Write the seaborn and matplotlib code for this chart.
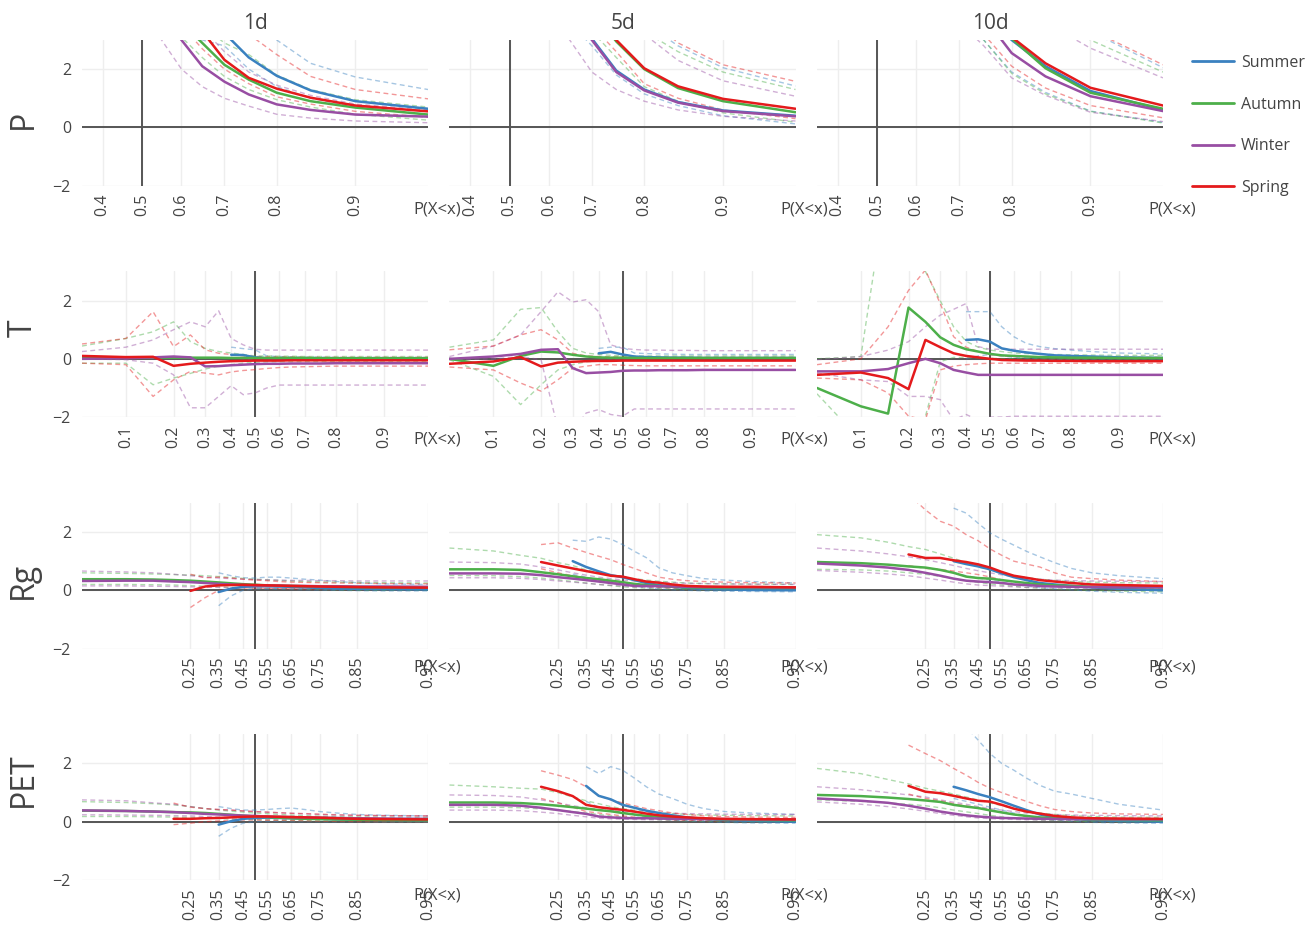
import numpy as np
import matplotlib
matplotlib.use("Agg")
import matplotlib.pyplot as plt
import seaborn as sns
from matplotlib.lines import Line2D
from matplotlib.ticker import NullLocator

nan = np.nan

# probability levels P(X<x) of every trace
QUANTILES = [0.05, 0.10, 0.15, 0.20, 0.25, 0.30, 0.35, 0.40, 0.45, 0.50,
             0.55, 0.60, 0.65, 0.70, 0.75, 0.80, 0.85, 0.90, 0.95]

SEASONS = ["Summer", "Autumn", "Winter", "Spring"]
COLORS = {"Summer": "#3a81c0", "Autumn": "#4daf4a", "Winter": "#984ea3", "Spring": "#e41a1c"}
VARIABLES = ["P", "T", "Rg", "PET"]
HORIZONS = ["1d", "5d", "10d"]

# (median, lower, upper) per season; lists end at 0.95, missing leading levels are empty
P_1D = {
    "Summer": ([9.0, 7.5, 6.3, 5.3, 4.6, 4.0, 3.6, 3.24, 2.4, 1.77, 1.27, 0.9, 0.64],
               [7.0, 6.0, 5.0, 4.3, 3.7, 3.3, 3.0, 2.8, 2.0, 1.4, 1.0, 0.7, 0.45],
               [14.0, 12.0, 10.0, 8.5, 7.2, 6.2, 5.2, 4.4, 3.6, 3.0, 2.2, 1.73, 1.3]),
    "Autumn": ([7.0, 5.9, 5.0, 4.4, 4.0, 3.6, 2.9, 2.15, 1.64, 1.19, 0.9, 0.68, 0.44],
               [6.8, 5.8, 5.0, 4.4, 3.8, 3.1, 2.4, 1.75, 1.3, 0.95, 0.7, 0.45, 0.25],
               [9.5, 8.0, 7.0, 6.0, 5.0, 4.2, 3.5, 2.9, 2.5, 1.8, 1.3, 0.95, 0.7]),
    "Winter": ([7.4, 6.3, 5.4, 4.6, 3.8, 3.0, 2.1, 1.57, 1.13, 0.79, 0.6, 0.44, 0.37],
               [6.3, 5.4, 4.6, 3.8, 3.0, 2.0, 1.4, 1.0, 0.73, 0.45, 0.32, 0.22, 0.16],
               [8.8, 7.6, 6.7, 5.8, 5.0, 4.2, 3.4, 2.6, 1.9, 1.45, 1.1, 0.8, 0.6]),
    "Spring": ([8.8, 7.6, 6.6, 5.7, 4.9, 4.1, 3.3, 2.32, 1.7, 1.33, 1.02, 0.75, 0.55],
               [7.8, 6.7, 5.8, 5.0, 4.2, 3.5, 2.7, 2.0, 1.5, 1.05, 0.8, 0.55, 0.35],
               [11.0, 9.8, 8.6, 7.5, 6.5, 5.6, 4.8, 4.0, 3.2, 2.5, 1.75, 1.3, 0.98]),
}
P_5D = {
    "Summer": ([10, 9, 8, 7, 6, 5, 4, 3.05, 1.95, 1.3, 0.87, 0.58, 0.4],
               [9, 8.1, 7.2, 6.3, 5.4, 4.5, 3.6, 2.8, 1.8, 1.15, 0.75, 0.4, 0.12],
               [12.5, 11.5, 10.5, 9.5, 8.5, 7.5, 6.5, 5.5, 4.5, 3.6, 2.8, 2.05, 1.42]),
    "Autumn": ([11, 10, 9, 8, 7, 6, 5, 4, 2.95, 2.0, 1.35, 0.9, 0.52],
               [9.6, 8.7, 7.8, 6.9, 6.0, 5.1, 4.2, 3.3, 2.4, 1.4, 0.9, 0.5, 0.18],
               [12, 11, 10, 9, 8, 7, 6, 5.2, 4.2, 3.3, 2.6, 1.9, 1.3]),
    "Winter": ([9.3, 8.4, 7.5, 6.6, 5.7, 4.8, 3.9, 3.0, 1.9, 1.27, 0.85, 0.56, 0.38],
               [8.4, 7.5, 6.6, 5.7, 4.8, 3.9, 3.0, 1.9, 1.3, 0.9, 0.6, 0.38, 0.22],
               [10.5, 9.5, 8.5, 7.5, 6.6, 5.8, 5.0, 4.6, 4.0, 3.2, 2.3, 1.6, 1.07]),
    "Spring": ([11.5, 10.5, 9.5, 8.5, 7.5, 6.5, 5.3, 4.1, 3.0, 2.03, 1.41, 0.98, 0.64],
               [10, 9, 8, 7, 6.1, 5.2, 4.3, 3.5, 2.6, 1.5, 1.0, 0.6, 0.3],
               [13, 12, 11, 10, 9, 8, 7, 6, 4.8, 3.9, 2.9, 2.15, 1.58]),
}
P_10D = {
    "Summer": ([12, 11, 10, 9, 8, 7, 6, 5.0, 4.0, 3.0, 2.1, 1.25, 0.6],
               [10, 9, 8, 7, 6, 5, 4.5, 3.8, 3.0, 1.9, 1.2, 0.56, 0.17],
               [15, 14, 13, 12, 11, 10, 9, 8, 7, 5.5, 4.5, 3.3, 2.05]),
    "Autumn": ([12, 11, 10, 9, 8, 7, 6, 5.0, 4.1, 3.05, 2.03, 1.19, 0.64],
               [10, 9, 8, 7, 6, 5, 4.5, 3.8, 3.0, 1.85, 1.15, 0.55, 0.15],
               [14, 13, 12, 11, 10, 9, 8, 7, 6, 5, 4, 3.0, 1.9]),
    "Winter": ([11, 10, 9, 8, 7, 6, 5.2, 4.4, 3.8, 2.55, 1.75, 1.07, 0.56],
               [9, 8, 7, 6, 5.5, 5, 4.3, 3.6, 2.8, 1.7, 1.1, 0.52, 0.2],
               [13, 12, 11, 10, 9, 8, 7, 6, 5, 4.2, 3.6, 2.72, 1.7]),
    "Spring": ([12.5, 11.5, 10.5, 9.5, 8.5, 7.5, 6.5, 5.3, 4.2, 3.1, 2.2, 1.36, 0.75],
               [10.5, 9.5, 8.5, 7.5, 6.5, 5.5, 4.7, 4.0, 3.2, 2.1, 1.35, 0.75, 0.33],
               [16, 15, 14, 13, 12, 11, 10, 9, 7.5, 6, 4.8, 3.35, 2.15]),
}

T_1D = {
    "Summer": ([0.14, 0.13, 0.05, 0.02, 0.02, 0.01, 0.01, 0.01, 0.0, 0.0, 0.0, 0.0],
               [0.05, 0.0, -0.05, -0.05, -0.05, -0.05, -0.05, -0.05, -0.05, -0.05, -0.05, -0.05],
               [0.4, 0.35, 0.31, 0.1, 0.08, 0.07, 0.06, 0.06, 0.05, 0.05, 0.05, 0.05]),
    "Autumn": ([0.05, 0.04, 0.04, 0.04, 0.04, 0.04, 0.04, 0.03, 0.03, 0.03, 0.03, 0.03, 0.03, 0.03, 0.02, 0.02, 0.02, 0.02, 0.02],
               [-0.15, -0.15, -0.89, -0.66, -0.5, -0.35, -0.25, -0.2, -0.15, -0.12, -0.1, -0.1, -0.1, -0.1, -0.1, -0.1, -0.1, -0.1, -0.1],
               [0.44, 0.7, 0.93, 1.27, 0.59, 0.36, 0.25, 0.2, 0.15, 0.1, 0.1, 0.09, 0.09, 0.08, 0.08, 0.08, 0.08, 0.08, 0.08]),
    "Winter": ([0.0, 0.02, 0.05, 0.08, 0.05, -0.26, -0.25, -0.22, -0.2, -0.18, -0.17, -0.17, -0.16, -0.16, -0.16, -0.15, -0.15, -0.15, -0.15],
               [0.0, -0.03, -0.15, -0.55, -1.68, -1.68, -1.29, -0.92, -1.23, -1.17, -1.0, -0.9, -0.9, -0.9, -0.9, -0.9, -0.9, -0.9, -0.9],
               [0.25, 0.4, 0.65, 1.0, 1.27, 1.1, 1.65, 0.7, 0.48, 0.33, 0.3, 0.3, 0.3, 0.3, 0.3, 0.3, 0.3, 0.3, 0.3]),
    "Spring": ([0.1, 0.06, 0.07, -0.24, -0.17, -0.13, -0.1, -0.08, -0.07, -0.06, -0.06, -0.06, -0.05, -0.05, -0.05, -0.05, -0.05, -0.05, -0.05],
               [-0.15, -0.2, -1.29, -0.72, -0.43, -0.49, -0.55, -0.45, -0.4, -0.37, -0.33, -0.3, -0.28, -0.27, -0.26, -0.25, -0.25, -0.25, -0.25],
               [0.51, 0.7, 1.62, 0.42, 0.82, 0.31, 0.19, 0.15, 0.1, 0.08, 0.07, 0.06, 0.06, 0.05, 0.05, 0.05, 0.05, 0.05, 0.05]),
}
T_5D = {
    "Summer": ([0.19, 0.24, 0.15, 0.08, 0.06, 0.05, 0.04, 0.04, 0.03, 0.03, 0.03, 0.03],
               [0.05, 0.0, -0.03, -0.05, -0.05, -0.05, -0.05, -0.05, -0.05, -0.05, -0.05, -0.05],
               [0.36, 0.4, 0.4, 0.2, 0.18, 0.17, 0.16, 0.15, 0.15, 0.15, 0.15, 0.15]),
    "Autumn": ([0.0, -0.24, 0.1, 0.25, 0.22, 0.14, 0.08, 0.05, 0.04, 0.04, 0.03, 0.03, 0.03, 0.03, 0.03, 0.03, 0.03, 0.03, 0.03],
               [-0.03, -0.6, -1.57, -0.89, -0.38, -0.2, -0.1, -0.08, -0.06, -0.05, -0.05, -0.05, -0.05, -0.05, -0.05, -0.05, -0.05, -0.05, -0.05],
               [0.4, 0.65, 1.7, 1.76, 0.93, 0.36, 0.2, 0.15, 0.12, 0.1, 0.1, 0.1, 0.1, 0.1, 0.1, 0.1, 0.1, 0.1, 0.1]),
    "Winter": ([0.0, 0.08, 0.17, 0.31, 0.33, -0.32, -0.49, -0.47, -0.45, -0.41, -0.4, -0.4, -0.39, -0.39, -0.39, -0.38, -0.38, -0.38, -0.38],
               [-0.03, 0.0, 0.08, -0.03, -2.4, -2.5, -1.86, -1.74, -1.91, -1.97, -1.72, -1.72, -1.72, -1.72, -1.72, -1.72, -1.72, -1.72, -1.72],
               [0.08, 0.44, 0.82, 1.62, 2.3, 1.95, 2.03, 1.62, 0.48, 0.36, 0.32, 0.3, 0.3, 0.29, 0.29, 0.28, 0.28, 0.28, 0.28]),
    "Spring": ([-0.17, -0.09, 0.06, -0.26, -0.13, -0.1, -0.08, -0.07, -0.07, -0.06, -0.06, -0.06, -0.06, -0.06, -0.06, -0.06, -0.06, -0.06, -0.06],
               [-0.28, -0.38, -0.83, -1.11, -0.72, -0.32, -0.25, -0.2, -0.2, -0.22, -0.23, -0.24, -0.24, -0.24, -0.24, -0.24, -0.24, -0.24, -0.24],
               [0.31, 0.44, 0.82, 1.0, 0.65, 0.19, 0.1, 0.08, 0.07, 0.06, 0.06, 0.05, 0.05, 0.05, 0.05, 0.05, 0.05, 0.05, 0.05]),
}
T_10D = {
    "Summer": ([0.65, 0.67, 0.59, 0.36, 0.28, 0.22, 0.17, 0.12, 0.1, 0.08, 0.05, 0.03],
               [0.0, 0.1, 0.15, 0.1, 0.05, 0.03, 0.0, -0.02, -0.03, -0.04, -0.05, -0.05],
               [1.62, 1.62, 1.62, 1.1, 0.76, 0.53, 0.42, 0.35, 0.3, 0.25, 0.2, 0.17]),
    "Autumn": ([-1.0, -1.63, -1.88, 1.76, 1.27, 0.74, 0.48, 0.33, 0.25, 0.17, 0.12, 0.1, 0.08, 0.06, 0.05, 0.04, 0.04, 0.03, 0.03],
               [-1.2, -2.8, -3.2, -3.0, -1.97, -0.1, 0.05, 0.05, 0.03, 0.02, 0.01, 0.0, 0.0, 0.0, 0.0, 0.0, 0.0, 0.0, 0.0],
               [0.0, 0.08, 6.2, 5.0, 3.0, 2.0, 1.1, 0.6, 0.4, 0.3, 0.25, 0.2, 0.18, 0.16, 0.15, 0.14, 0.13, 0.12, 0.12]),
    "Winter": ([-0.43, -0.43, -0.35, -0.15, 0.0, -0.15, -0.38, -0.47, -0.55, -0.55, -0.55, -0.55, -0.55, -0.55, -0.55, -0.55, -0.55, -0.55, -0.55],
               [-0.49, -0.72, -0.78, -1.29, -1.29, -1.4, -2.1, -1.91, -2.1, -2.0, -2.0, -1.97, -1.97, -1.97, -1.97, -1.97, -1.97, -1.97, -1.97],
               [-0.03, 0.08, 0.3, 0.59, 1.1, 1.5, 1.7, 1.9, 0.42, 0.33, 0.33, 0.33, 0.33, 0.33, 0.33, 0.33, 0.33, 0.33, 0.33]),
    "Spring": ([-0.55, -0.47, -0.66, -1.04, 0.65, 0.4, 0.19, 0.1, 0.05, 0.0, -0.04, -0.05, -0.06, -0.06, -0.07, -0.07, -0.08, -0.08, -0.08],
               [-0.66, -0.72, -1.17, -1.97, -2.1, -0.38, -0.25, -0.2, -0.17, -0.15, -0.15, -0.15, -0.15, -0.15, -0.15, -0.15, -0.15, -0.15, -0.15],
               [-0.2, 0.0, 1.1, 2.35, 3.05, 1.9, 0.76, 0.4, 0.25, 0.15, 0.1, 0.08, 0.07, 0.06, 0.05, 0.05, 0.05, 0.05, 0.05]),
}

RG_1D = {
    "Summer": ([-0.06, 0.06, 0.12, 0.14, 0.14, 0.13, 0.12, 0.1, 0.08, 0.06, 0.05, 0.04, 0.03],
               [-0.53, -0.19, 0.0, 0.05, 0.05, 0.04, 0.03, 0.02, 0.01, 0.0, -0.01, -0.02, -0.02],
               [0.6, 0.5, 0.43, 0.42, 0.45, 0.45, 0.42, 0.38, 0.35, 0.3, 0.26, 0.22, 0.2]),
    "Autumn": ([0.38, 0.38, 0.37, 0.35, 0.33, 0.3, 0.27, 0.24, 0.21, 0.19, 0.17, 0.16, 0.15, 0.14, 0.13, 0.12, 0.11, 0.1, 0.1],
               [0.2, 0.2, 0.19, 0.18, 0.16, 0.14, 0.12, 0.1, 0.09, 0.08, 0.07, 0.06, 0.05, 0.04, 0.03, 0.02, 0.01, 0.0, 0.0],
               [0.6, 0.58, 0.56, 0.54, 0.52, 0.5, 0.47, 0.44, 0.41, 0.38, 0.36, 0.34, 0.32, 0.3, 0.29, 0.28, 0.27, 0.26, 0.25]),
    "Winter": ([0.32, 0.33, 0.33, 0.3, 0.28, 0.25, 0.22, 0.2, 0.18, 0.17, 0.16, 0.16, 0.15, 0.15, 0.14, 0.14, 0.13, 0.13, 0.12],
               [0.15, 0.15, 0.14, 0.13, 0.12, 0.11, 0.1, 0.09, 0.08, 0.08, 0.07, 0.07, 0.06, 0.06, 0.06, 0.05, 0.05, 0.05, 0.05],
               [0.66, 0.63, 0.6, 0.55, 0.5, 0.45, 0.42, 0.4, 0.38, 0.37, 0.36, 0.35, 0.34, 0.34, 0.33, 0.33, 0.32, 0.32, 0.32]),
    "Spring": ([-0.02, 0.13, 0.17, 0.18, 0.19, 0.18, 0.17, 0.16, 0.15, 0.14, 0.13, 0.12, 0.11, 0.1, 0.09],
               [-0.59, -0.25, 0.0, 0.05, 0.08, 0.08, 0.07, 0.06, 0.05, 0.05, 0.04, 0.04, 0.03, 0.03, 0.03],
               [0.55, 0.43, 0.45, 0.42, 0.38, 0.35, 0.33, 0.3, 0.28, 0.27, 0.26, 0.25, 0.24, 0.23, 0.22]),
}
RG_5D = {
    "Summer": ([1.0, 0.8, 0.65, 0.52, 0.45, 0.35, 0.25, 0.18, 0.12, 0.08, 0.05, 0.03, 0.01, 0.0],
               [0.55, 0.45, 0.35, 0.28, 0.2, 0.14, 0.09, 0.05, 0.02, 0.0, -0.02, -0.03, -0.04, -0.05],
               [1.72, 1.68, 1.83, 1.76, 1.57, 1.34, 1.12, 0.77, 0.6, 0.5, 0.4, 0.35, 0.3, 0.25]),
    "Autumn": ([0.72, 0.72, 0.7, 0.62, 0.55, 0.48, 0.42, 0.38, 0.33, 0.28, 0.22, 0.18, 0.15, 0.12, 0.1, 0.09, 0.08, 0.08, 0.08],
               [0.51, 0.5, 0.47, 0.42, 0.36, 0.3, 0.25, 0.2, 0.16, 0.12, 0.09, 0.07, 0.05, 0.04, 0.03, 0.02, 0.01, 0.0, 0.0],
               [1.45, 1.35, 1.2, 1.1, 0.95, 0.85, 0.7, 0.6, 0.52, 0.45, 0.4, 0.35, 0.31, 0.28, 0.25, 0.23, 0.22, 0.21, 0.2]),
    "Winter": ([0.58, 0.58, 0.57, 0.52, 0.45, 0.4, 0.35, 0.3, 0.25, 0.2, 0.15, 0.15, 0.14, 0.13, 0.12, 0.11, 0.11, 0.1, 0.1],
               [0.43, 0.43, 0.41, 0.37, 0.32, 0.28, 0.24, 0.2, 0.17, 0.15, 0.12, 0.1, 0.09, 0.08, 0.07, 0.06, 0.06, 0.05, 0.05],
               [0.97, 0.95, 0.9, 0.8, 0.7, 0.6, 0.52, 0.45, 0.4, 0.35, 0.32, 0.3, 0.28, 0.26, 0.24, 0.23, 0.22, 0.21, 0.2]),
    "Spring": ([0.97, 0.85, 0.75, 0.66, 0.58, 0.5, 0.47, 0.38, 0.3, 0.26, 0.2, 0.15, 0.13, 0.12, 0.12, 0.1],
               [0.74, 0.6, 0.5, 0.42, 0.35, 0.28, 0.22, 0.17, 0.13, 0.1, 0.08, 0.06, 0.05, 0.04, 0.04, 0.03],
               [1.57, 1.63, 1.45, 1.3, 1.17, 1.05, 0.89, 0.75, 0.6, 0.45, 0.38, 0.33, 0.3, 0.28, 0.26, 0.25]),
}
RG_10D = {
    "Summer": ([1.0, 0.9, 0.82, 0.72, 0.58, 0.45, 0.35, 0.25, 0.2, 0.15, 0.1, 0.05, 0.0],
               [0.6, 0.5, 0.42, 0.35, 0.28, 0.2, 0.14, 0.09, 0.05, 0.02, -0.03, -0.07, -0.1],
               [2.82, 2.65, 2.3, 1.97, 1.75, 1.55, 1.34, 1.15, 0.95, 0.75, 0.6, 0.5, 0.4]),
    "Autumn": ([0.97, 0.93, 0.88, 0.82, 0.78, 0.7, 0.6, 0.47, 0.42, 0.4, 0.35, 0.3, 0.25, 0.2, 0.17, 0.15, 0.12, 0.11, 0.1],
               [0.72, 0.7, 0.66, 0.6, 0.55, 0.48, 0.4, 0.32, 0.27, 0.22, 0.18, 0.14, 0.1, 0.07, 0.04, 0.02, 0.0, -0.03, -0.05],
               [1.91, 1.8, 1.65, 1.5, 1.4, 1.25, 1.1, 0.95, 0.8, 0.7, 0.6, 0.5, 0.44, 0.38, 0.34, 0.3, 0.28, 0.26, 0.25]),
    "Winter": ([0.92, 0.85, 0.78, 0.7, 0.6, 0.5, 0.4, 0.33, 0.3, 0.28, 0.25, 0.2, 0.18, 0.15, 0.13, 0.12, 0.11, 0.1, 0.1],
               [0.68, 0.62, 0.56, 0.5, 0.42, 0.35, 0.28, 0.22, 0.18, 0.16, 0.14, 0.12, 0.1, 0.09, 0.08, 0.07, 0.06, 0.05, 0.05],
               [1.45, 1.35, 1.25, 1.15, 1.05, 0.95, 0.85, 0.75, 0.67, 0.6, 0.53, 0.47, 0.42, 0.38, 0.35, 0.33, 0.32, 0.31, 0.3]),
    "Spring": ([1.23, 1.11, 1.11, 1.03, 0.97, 0.89, 0.78, 0.63, 0.5, 0.43, 0.35, 0.3, 0.25, 0.2, 0.18, 0.15],
               [0.85, 0.75, 0.72, 0.66, 0.6, 0.54, 0.46, 0.36, 0.28, 0.22, 0.18, 0.15, 0.13, 0.11, 0.1, 0.1],
               [3.3, 2.76, 2.37, 2.2, 1.91, 1.7, 1.42, 1.2, 1.0, 0.9, 0.8, 0.6, 0.45, 0.4, 0.35, 0.3]),
}

PET_1D = {
    "Summer": ([-0.1, 0.02, 0.1, 0.13, 0.14, 0.13, 0.12, 0.11, 0.1, 0.08, 0.07, 0.06, 0.05],
               [-0.5, -0.22, -0.05, 0.0, 0.01, 0.01, 0.0, 0.0, 0.0, -0.01, -0.01, -0.02, -0.02],
               [0.52, 0.45, 0.4, 0.4, 0.42, 0.45, 0.47, 0.42, 0.35, 0.3, 0.25, 0.22, 0.2]),
    "Autumn": ([0.38, 0.37, 0.35, 0.33, 0.32, 0.3, 0.27, 0.24, 0.21, 0.18, 0.16, 0.14, 0.12, 0.1, 0.09, 0.08, 0.07, 0.06, 0.05],
               [0.18, 0.18, 0.17, 0.16, 0.15, 0.13, 0.11, 0.09, 0.08, 0.07, 0.06, 0.05, 0.04, 0.03, 0.02, 0.01, 0.01, 0.0, 0.0],
               [0.69, 0.66, 0.62, 0.58, 0.52, 0.45, 0.4, 0.36, 0.33, 0.3, 0.28, 0.25, 0.23, 0.21, 0.19, 0.18, 0.17, 0.16, 0.15]),
    "Winter": ([0.39, 0.37, 0.35, 0.33, 0.3, 0.27, 0.25, 0.23, 0.21, 0.2, 0.18, 0.17, 0.16, 0.15, 0.14, 0.13, 0.12, 0.11, 0.1],
               [0.24, 0.23, 0.22, 0.21, 0.2, 0.18, 0.16, 0.14, 0.12, 0.11, 0.1, 0.1, 0.09, 0.09, 0.09, 0.08, 0.08, 0.08, 0.08],
               [0.75, 0.72, 0.65, 0.6, 0.52, 0.45, 0.42, 0.4, 0.37, 0.35, 0.33, 0.31, 0.29, 0.27, 0.25, 0.23, 0.22, 0.21, 0.2]),
    "Spring": ([0.1, 0.1, 0.12, 0.13, 0.15, 0.17, 0.18, 0.18, 0.17, 0.16, 0.15, 0.14, 0.12, 0.1, 0.09, 0.08],
               [-0.1, -0.05, 0.0, 0.03, 0.05, 0.06, 0.06, 0.05, 0.05, 0.04, 0.03, 0.02, 0.01, 0.0, 0.0, 0.0],
               [0.64, 0.5, 0.45, 0.42, 0.4, 0.37, 0.35, 0.33, 0.31, 0.29, 0.28, 0.26, 0.24, 0.22, 0.21, 0.2]),
}
PET_5D = {
    "Summer": ([1.23, 0.89, 0.77, 0.58, 0.48, 0.38, 0.3, 0.22, 0.15, 0.1, 0.06, 0.03, 0.0],
               [0.7, 0.5, 0.4, 0.3, 0.22, 0.15, 0.1, 0.06, 0.03, 0.0, -0.02, -0.04, -0.05],
               [1.89, 1.66, 1.89, 1.77, 1.5, 1.2, 0.95, 0.8, 0.6, 0.45, 0.35, 0.3, 0.25]),
    "Autumn": ([0.66, 0.66, 0.64, 0.6, 0.55, 0.5, 0.45, 0.4, 0.36, 0.3, 0.25, 0.2, 0.17, 0.15, 0.12, 0.1, 0.08, 0.06, 0.05],
               [0.5, 0.5, 0.48, 0.44, 0.4, 0.35, 0.3, 0.25, 0.2, 0.16, 0.12, 0.09, 0.07, 0.05, 0.03, 0.02, 0.01, 0.0, 0.0],
               [1.26, 1.2, 1.15, 1.12, 1.0, 0.85, 0.72, 0.62, 0.52, 0.45, 0.4, 0.35, 0.31, 0.28, 0.25, 0.23, 0.22, 0.21, 0.2]),
    "Winter": ([0.58, 0.58, 0.55, 0.48, 0.4, 0.33, 0.27, 0.18, 0.15, 0.13, 0.12, 0.12, 0.11, 0.1, 0.1, 0.09, 0.09, 0.08, 0.08],
               [0.4, 0.4, 0.38, 0.33, 0.28, 0.22, 0.17, 0.12, 0.1, 0.09, 0.08, 0.07, 0.07, 0.06, 0.06, 0.05, 0.05, 0.05, 0.05],
               [0.92, 0.9, 0.85, 0.75, 0.65, 0.55, 0.48, 0.42, 0.38, 0.35, 0.33, 0.31, 0.3, 0.29, 0.28, 0.27, 0.26, 0.25, 0.25]),
    "Spring": ([1.2, 1.05, 0.88, 0.58, 0.5, 0.45, 0.41, 0.35, 0.28, 0.22, 0.18, 0.15, 0.12, 0.1, 0.09, 0.08],
               [0.8, 0.65, 0.5, 0.35, 0.3, 0.25, 0.2, 0.16, 0.12, 0.09, 0.07, 0.05, 0.04, 0.03, 0.03, 0.03],
               [1.75, 1.6, 1.45, 1.2, 0.9, 0.75, 0.65, 0.55, 0.45, 0.38, 0.3, 0.25, 0.2, 0.18, 0.16, 0.15]),
}
PET_10D = {
    "Summer": ([1.2, 1.08, 0.95, 0.84, 0.7, 0.55, 0.4, 0.25, 0.15, 0.1, 0.06, 0.03, 0.0],
               [0.8, 0.7, 0.6, 0.5, 0.4, 0.3, 0.2, 0.12, 0.06, 0.02, -0.02, -0.04, -0.05],
               [3.8, 3.25, 2.8, 2.34, 2.0, 1.77, 1.5, 1.25, 1.05, 0.95, 0.8, 0.6, 0.4]),
    "Autumn": ([0.92, 0.88, 0.83, 0.78, 0.73, 0.68, 0.58, 0.52, 0.47, 0.39, 0.32, 0.25, 0.2, 0.15, 0.12, 0.1, 0.08, 0.06, 0.05],
               [0.75, 0.7, 0.65, 0.6, 0.55, 0.48, 0.4, 0.34, 0.28, 0.22, 0.17, 0.12, 0.09, 0.06, 0.04, 0.02, 0.01, 0.0, 0.0],
               [1.83, 1.65, 1.45, 1.3, 1.15, 1.05, 0.95, 0.85, 0.75, 0.65, 0.55, 0.45, 0.37, 0.3, 0.25, 0.21, 0.18, 0.16, 0.15]),
    "Winter": ([0.8, 0.72, 0.65, 0.55, 0.45, 0.35, 0.28, 0.22, 0.18, 0.15, 0.13, 0.12, 0.11, 0.1, 0.1, 0.09, 0.09, 0.08, 0.08],
               [0.68, 0.6, 0.52, 0.44, 0.36, 0.28, 0.22, 0.17, 0.13, 0.11, 0.09, 0.08, 0.07, 0.06, 0.06, 0.05, 0.05, 0.05, 0.05],
               [1.2, 1.1, 1.0, 0.92, 0.85, 0.75, 0.67, 0.6, 0.52, 0.45, 0.4, 0.35, 0.3, 0.27, 0.25, 0.23, 0.22, 0.21, 0.2]),
    "Spring": ([1.23, 1.03, 0.98, 0.89, 0.8, 0.72, 0.69, 0.58, 0.45, 0.35, 0.28, 0.2, 0.15, 0.12, 0.11, 0.1],
               [0.95, 0.8, 0.72, 0.62, 0.54, 0.46, 0.4, 0.32, 0.24, 0.18, 0.13, 0.1, 0.08, 0.06, 0.05, 0.05],
               [2.63, 2.34, 2.1, 1.83, 1.6, 1.35, 1.15, 1.0, 0.85, 0.7, 0.55, 0.42, 0.35, 0.3, 0.27, 0.25]),
}

PANELS = {
    "P": [P_1D, P_5D, P_10D],
    "T": [T_1D, T_5D, T_10D],
    "Rg": [RG_1D, RG_5D, RG_10D],
    "PET": [PET_1D, PET_5D, PET_10D],
}

XTICKS = {
    "P": [0.4, 0.5, 0.6, 0.7, 0.8, 0.9],
    "T": [0.1, 0.2, 0.3, 0.4, 0.5, 0.6, 0.7, 0.8, 0.9],
    "Rg": [0.25, 0.35, 0.45, 0.55, 0.65, 0.75, 0.85, 0.95],
    "PET": [0.25, 0.35, 0.45, 0.55, 0.65, 0.75, 0.85, 0.95],
}
XLEFT = {"P": 0.35, "T": 0.05, "Rg": 0.05, "PET": 0.05}
ROW_LABEL_Y = {"P": 119, "T": 328, "Rg": 580, "PET": 780}
PX_TITLE_OFFSET = {"P": 24, "T": 22, "Rg": 19, "PET": 15}


def pad(vals):
    # align a trace to the right end of QUANTILES, leading levels missing
    return [nan] * (len(QUANTILES) - len(vals)) + list(vals)


sns.set_theme(style="white")
plt.rcParams["font.family"] = ["Open Sans", "DejaVu Sans"]
TXT = "#444444"

fig, axes = plt.subplots(4, 3, figsize=(13.14, 9.26), dpi=100)
fig.subplots_adjust(left=82 / 1314, right=1163 / 1314, top=1 - 40 / 926,
                    bottom=1 - 880 / 926, wspace=0.062, hspace=0.589)

for r, var in enumerate(VARIABLES):
    for c, horizon in enumerate(HORIZONS):
        ax = axes[r, c]
        panel = PANELS[var][c]
        ax.axhline(0, color="#555555", lw=1.4, zorder=1.5)
        ax.axvline(0.5, color="#555555", lw=1.4, zorder=1.5)
        # bounds first, dashed and faint
        for season in SEASONS:
            med, lo, hi = panel[season]
            for bound in (lo, hi):
                sns.lineplot(x=QUANTILES, y=pad(bound), ax=ax, color=COLORS[season],
                             estimator=None, errorbar=None, lw=1.0, alpha=0.45,
                             linestyle=(0, (3.5, 2.5)), zorder=2)
        for season in SEASONS:
            med, lo, hi = panel[season]
            sns.lineplot(x=QUANTILES, y=pad(med), ax=ax, color=COLORS[season],
                         estimator=None, errorbar=None, lw=1.8, zorder=3)

        ax.set_xscale("logit")
        ax.set_xlim(XLEFT[var], 0.95)
        ax.set_ylim(-2, 3)
        ticks = XTICKS[var]
        ax.set_xticks(ticks, labels=[f"{t:g}" for t in ticks])
        ax.xaxis.set_minor_locator(NullLocator())
        ax.set_yticks([-2, 0, 2])
        if c > 0:
            ax.set_yticklabels([])
        ax.tick_params(axis="x", labelrotation=90, length=0, pad=6, labelsize=11.5, labelcolor=TXT)
        ax.tick_params(axis="y", length=0, pad=8, labelsize=11.5, labelcolor=TXT)
        ax.grid(True, color="#eeeeee", lw=1.0, zorder=0)
        for side in ax.spines.values():
            side.set_visible(False)
        ax.set_xlabel("")
        ax.set_ylabel("")
        ax.annotate("P(X<x)", xy=(1, 0), xycoords="axes fraction",
                    xytext=(-15, -PX_TITLE_OFFSET[var]), textcoords="offset pixels",
                    ha="left", va="center", fontsize=12, color=TXT)
        if r == 0:
            ax.set_title(horizon, fontsize=15, color=TXT, pad=8)
    fig.text(23 / 1314, 1 - ROW_LABEL_Y[var] / 926, var, rotation=90,
             ha="center", va="center", fontsize=23, color=TXT)

handles = [Line2D([], [], color=COLORS[s], lw=2) for s in SEASONS]
fig.legend(handles, SEASONS, loc="upper left", bbox_to_anchor=(1192 / 1314, 1 - 55 / 926),
           frameon=False, fontsize=11.5, handlelength=2.6, handletextpad=0.45,
           labelspacing=1.6, labelcolor=TXT, borderaxespad=0, borderpad=0)

fig.savefig("out.png", dpi=100)
